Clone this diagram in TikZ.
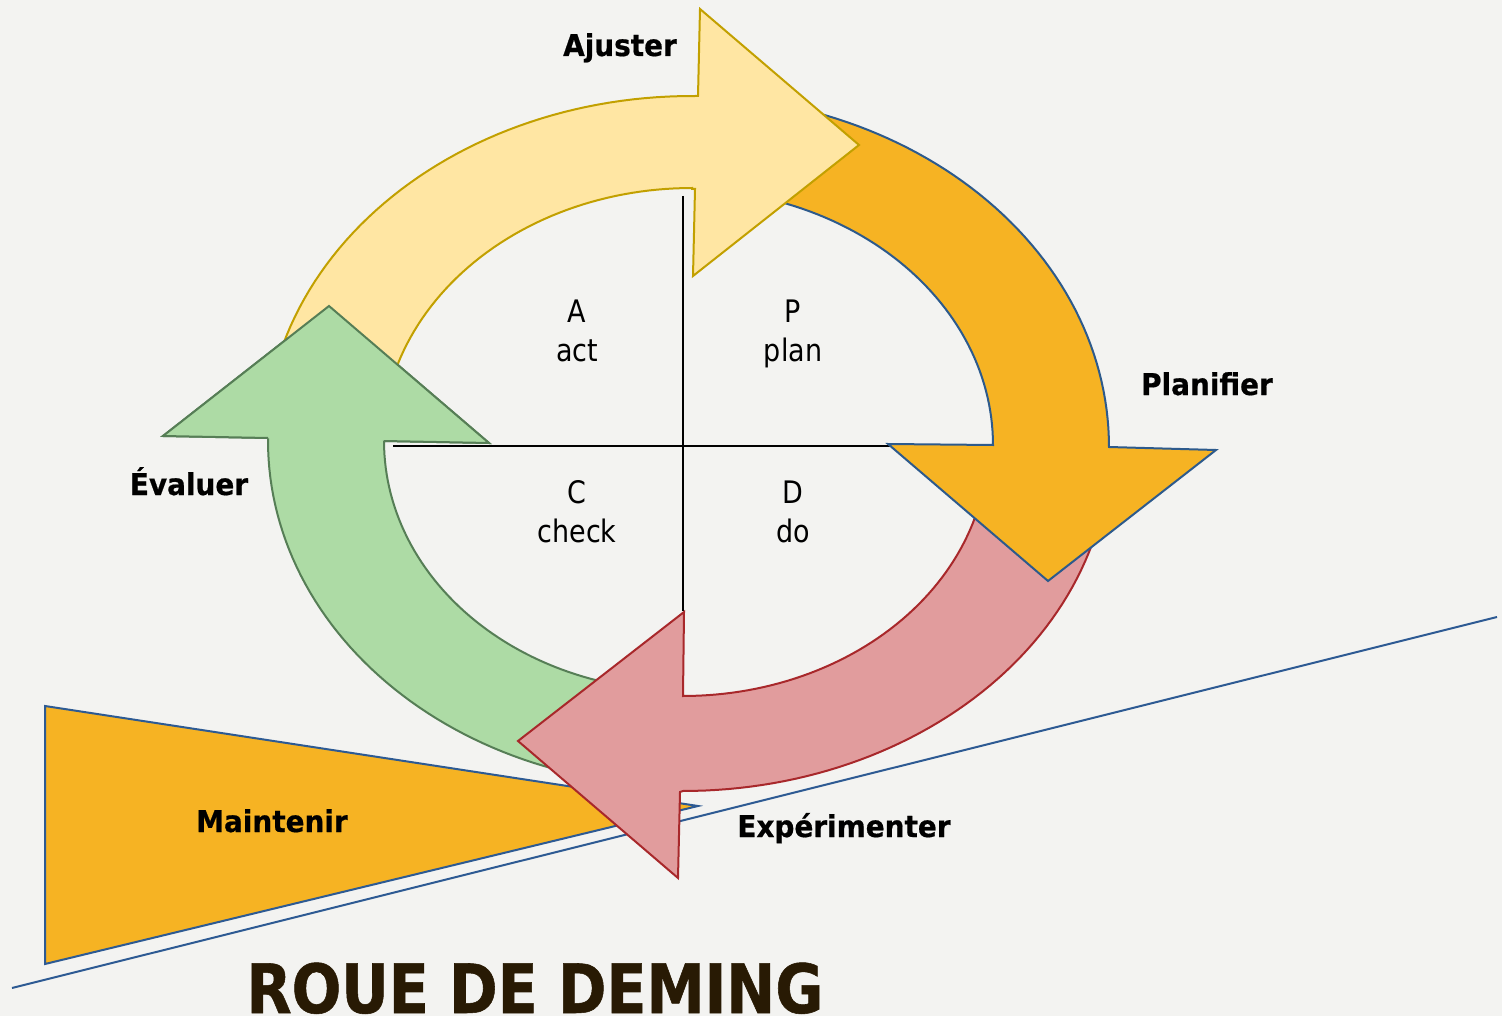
\documentclass[tikz,border=0pt]{standalone}
\usepackage{fontspec}
\newfontfamily\labfont[FakeStretch=0.93,FakeBold=0.6]{DejaVu Sans}
\newfontfamily\cellfont[FakeStretch=0.87]{DejaVu Sans}
\newfontfamily\titfont[FakeStretch=0.86,FakeBold=0.8]{DejaVu Sans}
\definecolor{bgc}{HTML}{F3F3F1}
\definecolor{yelF}{HTML}{FFE6A3}
\definecolor{yelS}{HTML}{C2A000}
\definecolor{oraF}{HTML}{F6B323}
\definecolor{oraS}{HTML}{2D5A8C}
\definecolor{redF}{HTML}{E19C9D}
\definecolor{redS}{HTML}{A8282B}
\definecolor{grnF}{HTML}{ADDBA5}
\definecolor{grnS}{HTML}{567E56}
\definecolor{blueL}{HTML}{2D5A93}
\definecolor{titc}{HTML}{281A04}
\tikzset{
  yelarrow/.style={fill=yelF,draw=yelS,line width=2pt,line join=miter},
  oraarrow/.style={fill=oraF,draw=oraS,line width=2pt,line join=miter},
  redarrow/.style={fill=redF,draw=redS,line width=2pt,line join=miter},
  grnarrow/.style={fill=grnF,draw=grnS,line width=2pt,line join=miter},
  crossline/.style={draw=black,line width=2pt},
  steplabel/.style={font=\labfont\bfseries\fontsize{30}{30}\selectfont,text=black,anchor=base,inner sep=0pt},
  celltext/.style={font=\cellfont\fontsize{31}{31}\selectfont,text=black,anchor=base,inner sep=0pt},
}
\begin{document}
\begin{tikzpicture}[x=1pt,y=-1pt]
\useasboundingbox (0,0) rectangle (1502,1016);
\fill[bgc] (0,0) rectangle (1502,1016);

% Maintenir wedge and baseline
\path[fill=oraF,draw=blueL,line width=2pt,line join=miter] (45,706) -- (698,806) -- (45,964) -- cycle;
\coordinate (bl1) at (12,988);
\coordinate (bl2) at (1497,617);
\draw[blueL,line width=2pt] (bl1) -- (bl2);

% cross
\coordinate (vtop) at (683,196);
\coordinate (vbot) at (683,611);
\coordinate (hl) at (393,446);
\coordinate (hr) at (890,446);
\draw[crossline] (vtop) -- (vbot);
\draw[crossline] (hl) -- (hr);

% green arrow (Evaluer)
\path[grnarrow] plot[domain=255:180,samples=50] ({683+415*cos(\x)},{441-345*sin(\x)})
  -- (268,438) -- (163,436) -- (329,306) -- (489,443) -- (384,441)
  -- plot[domain=180:255,samples=50] ({683+299*cos(\x)},{441-250*sin(\x)}) -- cycle;

% red arrow (Experimenter)
\path[redarrow] plot[domain=-15:-90,samples=50] ({683+427*cos(\x)},{445-346*sin(\x)})
  -- (680,792) -- (678,878) -- (518,741) -- (684,612) -- (683,696)
  -- plot[domain=-90:-15,samples=50] ({683+305*cos(\x)},{445-251*sin(\x)}) -- cycle;

% orange arrow (Planifier)
\path[oraarrow] plot[domain=75:0,samples=50] ({683+426*cos(\x)},{447-352*sin(\x)})
  -- (1216,450) -- (1048,581) -- (888,444) -- (993,445)
  -- plot[domain=0:75,samples=50] ({683+310*cos(\x)},{445-256*sin(\x)}) -- cycle;

% yellow arrow (Ajuster)
\path[yelarrow] plot[domain=168:90,samples=50] ({692+427*cos(\x)},{445-349*sin(\x)})
  -- (698,96) -- (700,9) -- (859,145) -- (693,276) -- (695,189) -- (692,189)
  -- plot[domain=90:168,samples=50] ({692+310*cos(\x)},{445-257*sin(\x)}) -- cycle;

% green arrow head on top of yellow tail
\fill[grnF] (163,436) -- (329,306) -- (489,443) -- cycle;
\draw[grnS,line width=2pt,line join=miter] (268,438) -- (163,436) -- (329,306) -- (489,443) -- (384,441);

% labels
\node[steplabel] (ajuster) at (620,56) {Ajuster};
\node[steplabel] (planifier) at (1207,395) {Planifier};
\node[steplabel] (evaluer) at (189,495) {Évaluer};
\node[steplabel] (experimenter) at (844,837) {Expérimenter};
\node[steplabel] (maintenir) at (272,832) {Maintenir};

% quadrant texts
\node[celltext] (qa) at (577,323) {A};
\node[celltext] (qact) at (577,361) {act};
\node[celltext] (qp) at (793,323) {P};
\node[celltext] (qplan) at (793,361) {plan};
\node[celltext] (qc) at (577,503) {C};
\node[celltext] (qcheck) at (577,542) {check};
\node[celltext] (qd) at (793,503) {D};
\node[celltext] (qdo) at (793,542) {do};

% title
\node[anchor=base,inner sep=0pt,text=titc,font=\titfont\bfseries\fontsize{68}{68}\selectfont] (title) at (535,1013) {ROUE DE DEMING};
\end{tikzpicture}
\end{document}
